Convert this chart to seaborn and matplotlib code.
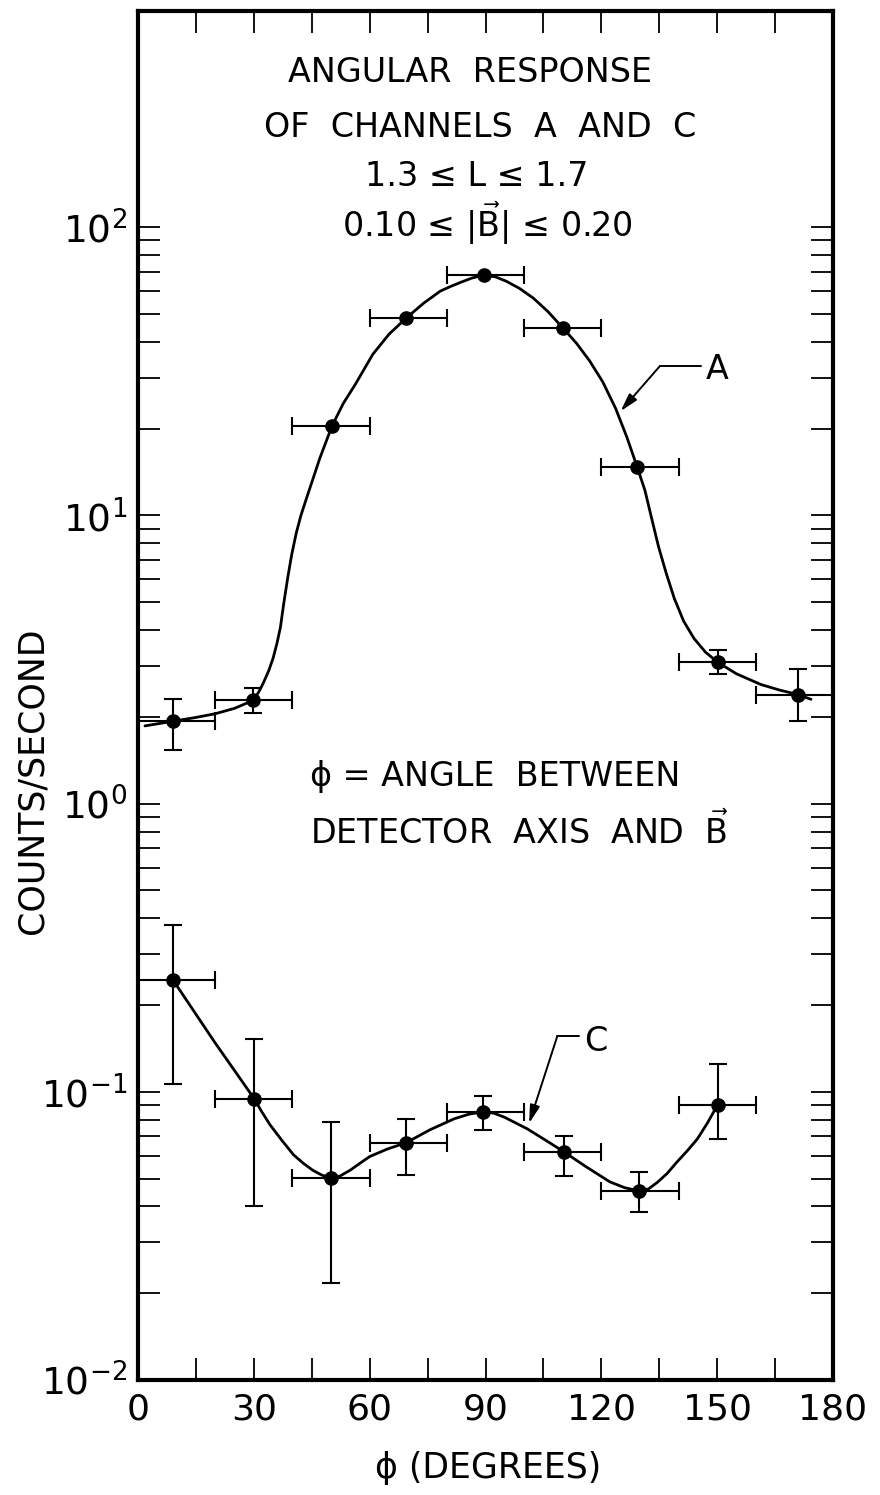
import numpy as np
import pandas as pd
import matplotlib
matplotlib.use("Agg")
import matplotlib.pyplot as plt
import seaborn as sns
from matplotlib.ticker import FixedLocator, FuncFormatter, NullFormatter

# ---------------- data ----------------
# Channel A measured points (phi in degrees, counts/second)
a_phi = [9.0, 29.8, 50.3, 69.4, 89.5, 110.1, 129.3, 150.2, 170.9]
a_rate = [1.93, 2.28, 20.5, 48.3, 68.1, 44.6, 14.7, 3.09, 2.39]
a_bin_lo = [0, 20, 40, 60, 80, 100, 120, 140, 160]
a_bin_hi = [20, 40, 60, 80, 100, 120, 140, 160, 180]
a_y_lo = [1.54, 2.07, np.nan, np.nan, np.nan, np.nan, np.nan, 2.81, 1.94]
a_y_hi = [2.31, 2.51, np.nan, np.nan, np.nan, np.nan, np.nan, 3.42, 2.92]

# Channel C measured points
c_phi = [9.0, 30.1, 49.9, 69.4, 89.4, 110.3, 129.7, 150.1]
c_rate = [0.245, 0.0946, 0.0503, 0.0665, 0.0853, 0.0619, 0.0453, 0.0901]
c_bin_lo = [0, 20, 40, 60, 80, 100, 120, 140]
c_bin_hi = [20, 40, 60, 80, 100, 120, 140, 160]
c_y_lo = [0.1066, 0.0402, 0.0217, 0.0515, 0.0738, 0.0511, 0.0383, 0.0687]
c_y_hi = [0.380, 0.152, 0.0787, 0.0806, 0.0969, 0.0703, 0.0528, 0.125]

# Hand-drawn smooth curves
a_curve_phi = [1.8, 9.0, 15, 20, 25, 29.8, 31.2, 32.4, 33.9, 35.0, 36.0, 36.9,
               37.7, 38.8, 39.8, 41.0, 42.2, 43.3, 44.4, 45.8, 47.1, 48.7, 50.3,
               53.2, 56.3, 60.8, 65, 69.4, 74, 78.3, 81.0, 83.5, 86.5, 89.5,
               92.5, 95.4, 98.8, 102.4, 106.2, 110.1, 113.6, 117.0, 120.4,
               123.7, 126.6, 129.3, 131.3, 133.0, 134.8, 136.8, 138.9, 141.3,
               144.0, 147.0, 150.2, 155, 161.3, 166, 170.9, 174.3]
a_curve_rate = [1.86, 1.93, 1.99, 2.05, 2.14, 2.28, 2.43, 2.61, 2.9, 3.2,
                3.6, 4.1, 4.9, 6.1, 7.3, 8.7, 10.0, 11.1, 12.3, 14.0, 15.8,
                18.0, 20.5, 24.5, 28.5, 36.2, 42.5, 48.3, 54.5, 60.0, 62.3,
                64.3, 66.6, 68.1, 67.3, 64.9, 61.3, 56.7, 50.9, 44.6, 39.5,
                34.3, 29.0, 23.5, 18.7, 14.7, 12.2, 9.8, 7.8, 6.3, 5.15, 4.3,
                3.74, 3.35, 3.09, 2.82, 2.59, 2.48, 2.39, 2.30]

c_curve_phi = [9.0, 19.8, 30.1, 32.0, 34.2, 37.2, 40.3, 42.8, 45.3, 47.6, 49.9,
               52.3, 55, 57.5, 60.0, 64.7, 69.4, 75.6, 81.9, 85.7, 89.4, 92.2,
               95, 100.8, 105.5, 110.3, 116, 122.2, 126.0, 129.7, 132.2, 134.5,
               137.0, 139.6, 142.3, 144.9, 147.5, 150.1]
c_curve_rate = [0.245, 0.149, 0.0946, 0.0855, 0.0768, 0.0680, 0.0604, 0.0565,
                0.0534, 0.0514, 0.0503, 0.0510, 0.0535, 0.0565, 0.0596, 0.0634,
                0.0665, 0.0738, 0.0806, 0.0836, 0.0853, 0.0843, 0.0815, 0.0744,
                0.0680, 0.0619, 0.0550, 0.0487, 0.0465, 0.0453, 0.0460, 0.0485,
                0.0520, 0.0571, 0.0625, 0.0687, 0.0780, 0.0901]

x_major = [0, 30, 60, 90, 120, 150, 180]
x_minor = [15, 45, 75, 105, 135, 165]
y_decades = [1e-2, 1e-1, 1e0, 1e1, 1e2]

# ---------------- styling ----------------
sns.set_theme(style="ticks")
plt.rcParams['font.family'] = ['DejaVu Sans']
plt.rcParams['mathtext.fontset'] = 'dejavusans'
for k in ['text.color', 'axes.labelcolor', 'xtick.color', 'ytick.color', 'axes.edgecolor']:
    plt.rcParams[k] = 'black'

fig = plt.figure(figsize=(8.8, 14.95), dpi=100)
ax = fig.add_axes([138 / 880, (1495 - 1380) / 1495, 695 / 880, 1369 / 1495])

curve_a = pd.DataFrame({'phi': a_curve_phi, 'rate': a_curve_rate})
curve_c = pd.DataFrame({'phi': c_curve_phi, 'rate': c_curve_rate})
sns.lineplot(data=curve_a, x='phi', y='rate', sort=False, color='black',
             lw=2.0, ax=ax, estimator=None)
sns.lineplot(data=curve_c, x='phi', y='rate', sort=False, color='black',
             lw=2.0, ax=ax, estimator=None)

ekw = dict(color='black', elinewidth=1.5, capthick=1.5, capsize=6.5)


def draw_points(phi, rate, lo, hi, ylo, yhi):
    phi = np.asarray(phi, float)
    rate = np.asarray(rate, float)
    xerr = [phi - np.asarray(lo, float), np.asarray(hi, float) - phi]
    ax.errorbar(phi, rate, xerr=xerr, fmt='o', ms=9.5, mfc='black', mec='black', **ekw)
    ylo = np.asarray(ylo, float)
    yhi = np.asarray(yhi, float)
    m = ~np.isnan(ylo)
    ax.errorbar(phi[m], rate[m], yerr=[rate[m] - ylo[m], yhi[m] - rate[m]],
                fmt='none', **ekw)


draw_points(a_phi, a_rate, a_bin_lo, a_bin_hi, a_y_lo, a_y_hi)
draw_points(c_phi, c_rate, c_bin_lo, c_bin_hi, c_y_lo, c_y_hi)

# axes
ax.set_yscale('log')
ax.set_xlim(0, 180)
ax.set_ylim(1e-2, 10 ** 2.75)
ax.xaxis.set_major_locator(FixedLocator(x_major))
ax.xaxis.set_minor_locator(FixedLocator(x_minor))
ax.yaxis.set_major_locator(FixedLocator(y_decades))
y_minor = [k * d for d in y_decades[:-1] for k in range(2, 10)]
ax.yaxis.set_minor_locator(FixedLocator(y_minor))
ax.yaxis.set_minor_formatter(NullFormatter())
ax.yaxis.set_major_formatter(FuncFormatter(lambda v, p: r"$10^{%d}$" % int(round(np.log10(v)))))
ax.tick_params(axis='both', which='both', direction='in', top=True, right=True,
               length=16, width=1.3, color='black')
ax.tick_params(axis='x', which='major', labelsize=26, pad=9)
ax.tick_params(axis='y', which='major', labelsize=27, pad=8)
for s in ax.spines.values():
    s.set_linewidth(3)
    s.set_color('black')

ax.set_xlabel("\u03d5 (DEGREES)", fontsize=25)
ax.xaxis.set_label_coords(0.504, -0.052)
ax.set_ylabel("COUNTS/SECOND", fontsize=25)
ax.yaxis.set_label_coords(-0.128, 0.438)

# text blocks
tkw = dict(transform=ax.transAxes, ha='center', va='center', fontsize=24)
ax.text(0.478, 0.955, "ANGULAR  RESPONSE", **tkw)
ax.text(0.492, 0.915, "OF  CHANNELS  A  AND  C", **tkw)
ax.text(0.488, 0.879, "1.3 \u2264 L \u2264 1.7", **tkw)
ax.text(0.502, 0.845, "0.10 \u2264 |" + r"$\vec{\mathrm{B}}$" + "| \u2264 0.20", **tkw)
ax.text(0.2475, 0.441, "\u03d5 = ANGLE  BETWEEN", transform=ax.transAxes,
        ha='left', va='center', fontsize=24)
ax.text(0.2475, 0.401, r"DETECTOR  AXIS  AND  $\vec{\mathrm{B}}$", transform=ax.transAxes,
        ha='left', va='center', fontsize=24)

# curve labels with leader lines
akw = dict(arrowstyle='-|>,head_length=0.9,head_width=0.25', color='black', lw=1.4,
           shrinkA=0, shrinkB=0)
ax.annotate('', xy=(125.0, 23.0), xytext=(135.2, 33.0), arrowprops=akw)
ax.plot([135.2, 145.8], [33.0, 33.0], color='black', lw=1.4)
ax.text(147.0, 32.0, "A", ha='left', va='center', fontsize=24)

ax.annotate('', xy=(101.3, 0.0778), xytext=(108.6, 0.156), arrowprops=akw)
ax.plot([108.6, 114.3], [0.156, 0.156], color='black', lw=1.4)
ax.text(115.5, 0.150, "C", ha='left', va='center', fontsize=24)

fig.savefig("out.png", dpi=100)
